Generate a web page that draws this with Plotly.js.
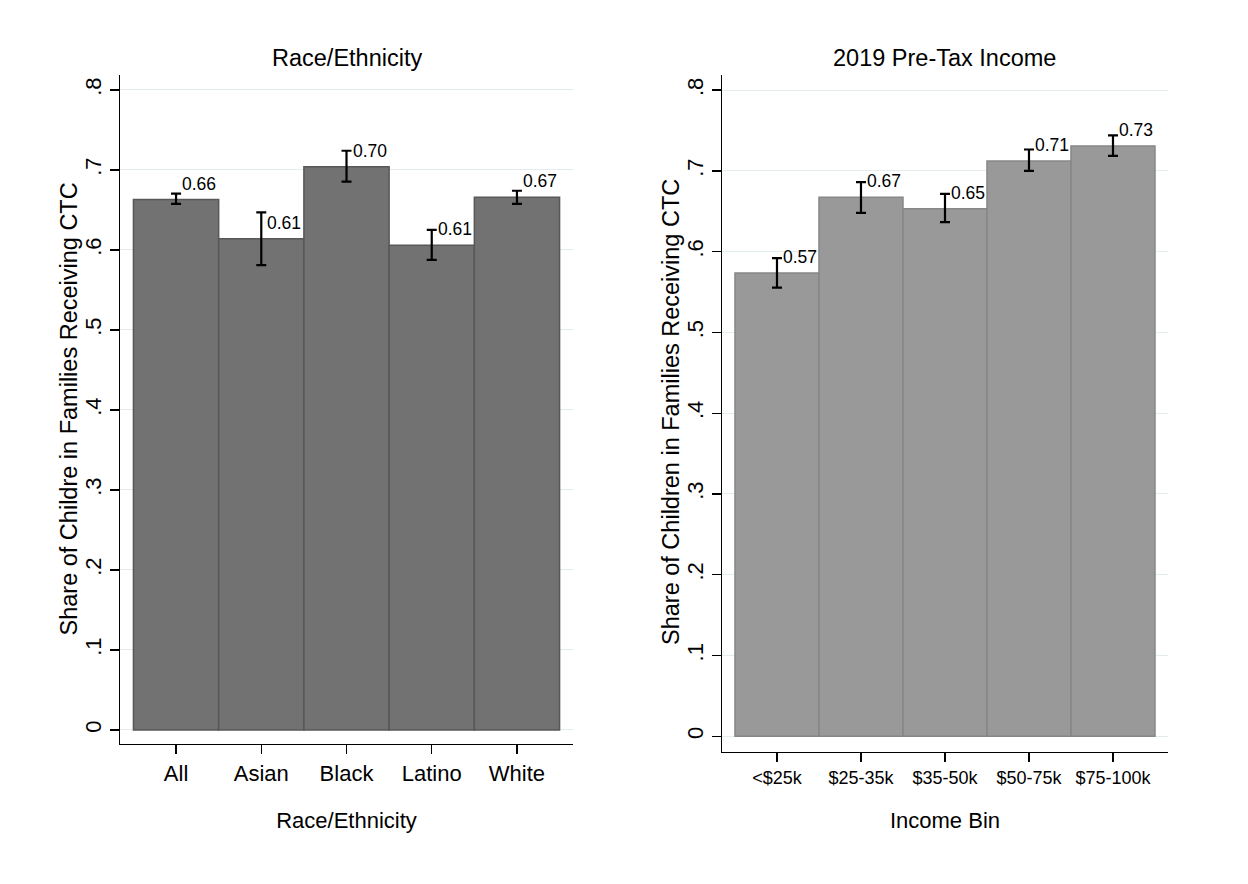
<!DOCTYPE html>
<html>
<head>
<meta charset="utf-8">
<script src="https://cdn.plot.ly/plotly-3.0.1.min.js"></script>
<style>html,body{margin:0;padding:0;background:#fff;}#chart{width:1248px;height:884px;}</style>
</head>
<body>
<div id="chart"></div>
<script>
// ---- Data ----
const raceCategories = ["All", "Asian", "Black", "Latino", "White"];
const raceShare      = [0.663, 0.614, 0.704, 0.606, 0.666];
const raceCiLow      = [0.6575, 0.581, 0.6855, 0.5875, 0.6575];
const raceCiHigh     = [0.6705, 0.647, 0.724, 0.625, 0.674];

const incomeCategories = ["<$25k", "$25-35k", "$35-50k", "$50-75k", "$75-100k"];
const incomeShare      = [0.5735, 0.6675, 0.653, 0.7122, 0.7309];
const incomeCiLow      = [0.5555, 0.648, 0.6365, 0.700, 0.7185];
const incomeCiHigh     = [0.592, 0.686, 0.6715, 0.7265, 0.744];

const yTickVals  = [0, 0.1, 0.2, 0.3, 0.4, 0.5, 0.6, 0.7, 0.8];
const yTickText  = ["0", ".1", ".2", ".3", ".4", ".5", ".6", ".7", ".8"];

const leftYTitle  = "Share of Childre in Families Receiving CTC";
const rightYTitle = "Share of Children in Families Receiving CTC";

// ---- Traces ----
const FONT = "Liberation Sans, Arial, sans-serif";

function barTrace(cats, vals, lo, hi, fill, edge, xa, ya) {
  return {
    type: "bar",
    x: cats,
    y: vals,
    width: 1,
    xaxis: xa, yaxis: ya,
    marker: {color: fill, line: {color: edge, width: 1.5}},
    error_y: {
      type: "data",
      symmetric: false,
      array: hi.map((h, i) => h - vals[i]),
      arrayminus: lo.map((l, i) => vals[i] - l),
      color: "#000000",
      thickness: 2.2,
      width: 5
    },
    hoverinfo: "x+y",
    showlegend: false
  };
}

const traces = [
  barTrace(raceCategories, raceShare, raceCiLow, raceCiHigh, "#727272", "#585858", "x", "y"),
  barTrace(incomeCategories, incomeShare, incomeCiLow, incomeCiHigh, "#999999", "#878787", "x2", "y2")
];

function valueLabels(cats, vals, xref, yref) {
  return cats.map((c, i) => ({
    x: c, y: vals[i], xref: xref, yref: yref,
    text: vals[i].toFixed(2),
    showarrow: false,
    xanchor: "left", yanchor: "middle",
    xshift: 4, yshift: 16,
    font: {family: FONT, size: 17.5, color: "#000"}
  }));
}

const annotations = [
  ...valueLabels(raceCategories, raceShare, "x", "y"),
  ...valueLabels(incomeCategories, incomeShare, "x2", "y2"),
  {text: "Race/Ethnicity", xref: "paper", yref: "paper", x: 0.2777, y: 0.9344,
   showarrow: false, xanchor: "center", yanchor: "middle", font: {family: FONT, size: 23.5, color: "#000"}},
  {text: "2019 Pre-Tax Income", xref: "paper", yref: "paper", x: 0.7572, y: 0.9344,
   showarrow: false, xanchor: "center", yanchor: "middle", font: {family: FONT, size: 23.5, color: "#000"}},
  {text: leftYTitle, xref: "paper", yref: "paper", x: 68 / 1248, y: (884 - 409.5) / 884, textangle: -90,
   showarrow: false, xanchor: "center", yanchor: "middle", font: {family: FONT, size: 23.5, color: "#000"}},
  {text: rightYTitle, xref: "paper", yref: "paper", x: 671 / 1248, y: (884 - 412) / 884, textangle: -90,
   showarrow: false, xanchor: "center", yanchor: "middle", font: {family: FONT, size: 23.5, color: "#000"}}
];

const yCommon = {
  tickmode: "array",
  tickvals: yTickVals,
  ticktext: yTickText,
  tickangle: -90,
  ticks: "outside",
  ticklen: 9,
  tickwidth: 1.3,
  tickcolor: "#000",
  tickfont: {family: FONT, size: 22, color: "#000"},
  showline: true,
  linecolor: "#000",
  linewidth: 1.3,
  showgrid: true,
  gridcolor: "#e3edf0",
  gridwidth: 1,
  zeroline: false,
  automargin: false,
  fixedrange: true
};

const xCommon = {
  type: "category",
  ticks: "outside",
  ticklen: 9,
  tickwidth: 1.3,
  tickcolor: "#000",
  showline: true,
  linecolor: "#000",
  linewidth: 1.3,
  showgrid: false,
  zeroline: false,
  automargin: false,
  fixedrange: true
};

const layout = {
  width: 1248,
  height: 884,
  margin: {l: 0, r: 0, t: 0, b: 0},
  paper_bgcolor: "#ffffff",
  plot_bgcolor: "#ffffff",
  bargap: 0,
  showlegend: false,
  font: {family: FONT, color: "#000"},
  xaxis: Object.assign({}, xCommon, {
    domain: [0.0962, 0.4591],
    anchor: "y",
    range: [-0.657, 4.657],
    tickfont: {family: FONT, size: 22, color: "#000"},
    title: {text: "Race/Ethnicity", font: {family: FONT, size: 22, color: "#000"}, standoff: 28}
  }),
  yaxis: Object.assign({}, yCommon, {
    domain: [0.1584, 0.9152],
    anchor: "x",
    range: [-0.0175, 0.81875]
  }),
  xaxis2: Object.assign({}, xCommon, {
    domain: [0.5785, 0.9359],
    anchor: "y2",
    range: [-0.655, 4.655],
    tickfont: {family: FONT, size: 18, color: "#000"},
    title: {text: "Income Bin", font: {family: FONT, size: 22, color: "#000"}, standoff: 25}
  }),
  yaxis2: Object.assign({}, yCommon, {
    domain: [0.1493, 0.9152],
    anchor: "x2",
    range: [-0.0195, 0.8188]
  }),
  annotations: annotations
};

Plotly.newPlot("chart", traces, layout, {displayModeBar: false, staticPlot: true});
</script>
</body>
</html>
